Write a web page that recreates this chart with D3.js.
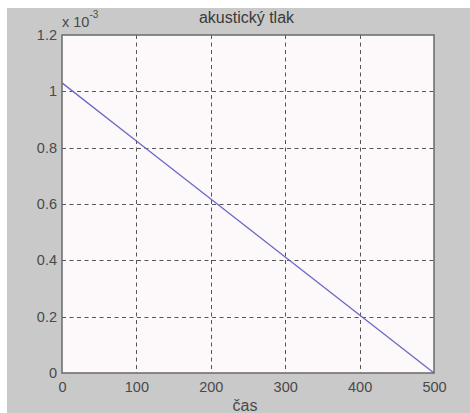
<!DOCTYPE html>
<html>
<head>
<meta charset="utf-8">
<script src="https://cdn.jsdelivr.net/npm/d3@7"></script>
<style>
  html, body { margin: 0; padding: 0; background: #ffffff; }
  svg { display: block; }
  text { font-family: "Liberation Sans", Arial, sans-serif; }
</style>
</head>
<body>
<svg id="chart" width="470" height="413"></svg>
<script>
// Sound pressure over time (values in units of 1e-3)
const time = [0, 100, 200, 300, 400, 500];
const pressure = [1.03, 0.824, 0.618, 0.412, 0.206, 0];
const xTicks = [0, 100, 200, 300, 400, 500];
const yTicks = [0, 0.2, 0.4, 0.6, 0.8, 1, 1.2];
const yTickLabels = ["0", "0.2", "0.4", "0.6", "0.8", "1", "1.2"];
const titleText = "akustický tlak";
const xLabelText = "čas";

const W = 470, H = 413;
const plot = { left: 62, top: 35, right: 434, bottom: 373 };

const svg = d3.select("#chart");

// figure background
svg.append("rect").attr("x", 7).attr("y", 8).attr("width", W - 7).attr("height", H - 8)
  .attr("fill", "#c9c9c9");

const x = d3.scaleLinear().domain([0, 500]).range([plot.left, plot.right]);
const y = d3.scaleLinear().domain([0, 1.2]).range([plot.bottom, plot.top]);

// axes area
svg.append("rect")
  .attr("x", plot.left).attr("y", plot.top)
  .attr("width", plot.right - plot.left).attr("height", plot.bottom - plot.top)
  .attr("fill", "#fdf8fa");

// grid
const grid = svg.append("g").attr("stroke", "#3a3a3a").attr("stroke-width", 1)
  .attr("stroke-dasharray", "4,3.5").attr("opacity", 0.85);
grid.selectAll("line.vx").data(xTicks.slice(1, -1)).join("line")
  .attr("x1", d => Math.round(x(d)) + 0.5).attr("x2", d => Math.round(x(d)) + 0.5)
  .attr("y1", plot.top).attr("y2", plot.bottom);
grid.selectAll("line.hy").data(yTicks.slice(1, -1)).join("line")
  .attr("y1", d => Math.round(y(d)) + 0.5).attr("y2", d => Math.round(y(d)) + 0.5)
  .attr("x1", plot.left).attr("x2", plot.right);

// data line
const line = d3.line().x((d, i) => x(time[i])).y(d => y(d));
svg.append("path").datum(pressure)
  .attr("d", line)
  .attr("fill", "none")
  .attr("stroke", "#6a6ac6")
  .attr("stroke-width", 1.3);

// axes box
svg.append("rect")
  .attr("x", plot.left).attr("y", plot.top)
  .attr("width", plot.right - plot.left).attr("height", plot.bottom - plot.top)
  .attr("fill", "none").attr("stroke", "#6a6a6a").attr("stroke-width", 1.5);

// tick labels via d3 axes
const xAxis = d3.axisBottom(x).tickValues(xTicks).tickSize(0).tickPadding(9);
const gx = svg.append("g").attr("transform", `translate(0,${plot.bottom})`).call(xAxis);
gx.select(".domain").remove();
gx.selectAll("text").attr("font-size", 14.5).attr("fill", "#4a4a4a")
  .attr("font-family", "Liberation Sans, Arial, sans-serif");

const yAxis = d3.axisLeft(y).tickValues(yTicks).tickFormat((d, i) => yTickLabels[i])
  .tickSize(0).tickPadding(5);
const gy = svg.append("g").attr("transform", `translate(${plot.left},0)`).call(yAxis);
gy.select(".domain").remove();
gy.selectAll("text").attr("font-size", 14.5).attr("fill", "#4a4a4a")
  .attr("font-family", "Liberation Sans, Arial, sans-serif");

// exponent label
const ex = svg.append("text").attr("x", 62).attr("y", 26.5)
  .attr("font-size", 14.5).attr("fill", "#4a4a4a");
ex.append("tspan").text("x 10");
ex.append("tspan").attr("font-size", 10).attr("dy", -9).text("-3");

// title
svg.append("text").attr("x", 246.5).attr("y", 23).attr("text-anchor", "middle")
  .attr("font-size", 16).attr("fill", "#3a3a3a").text(titleText);

// x label
svg.append("text").attr("x", 245).attr("y", 410.5).attr("text-anchor", "middle")
  .attr("font-size", 16).attr("fill", "#4a4a4a").text(xLabelText);
</script>
</body>
</html>
